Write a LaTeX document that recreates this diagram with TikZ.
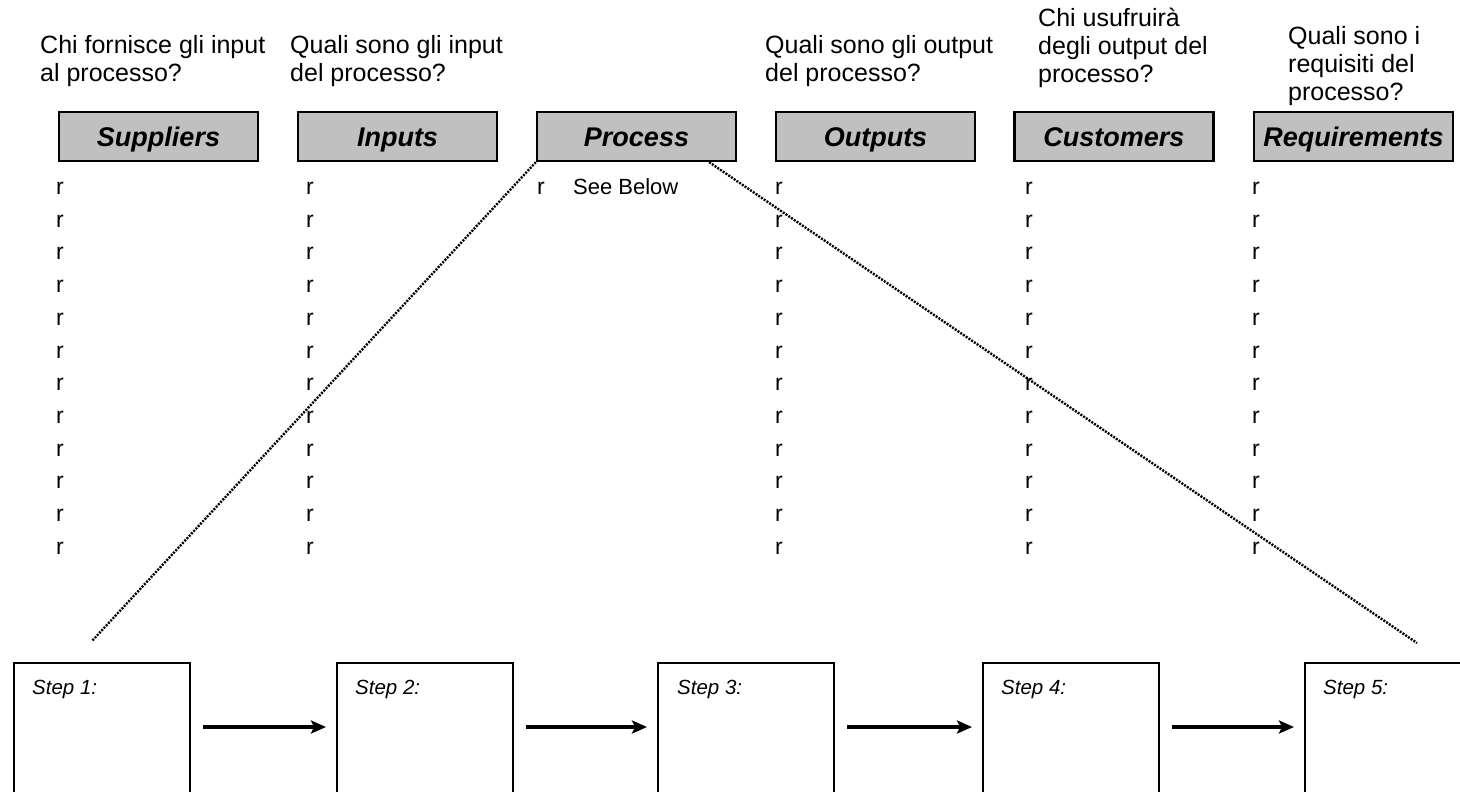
\documentclass[tikz,border=0pt]{standalone}
\usepackage{fontspec}
\setmainfont{Liberation Sans}
\usetikzlibrary{calc,arrows.meta}
\definecolor{hdrgray}{RGB}{192,192,192}
\newcommand{\qstrut}{\rule{0pt}{20pt}}
\tikzset{
  qtext/.style={anchor=north west, inner sep=0pt, align=left, font=\fontsize{25}{28}\selectfont},
  hdr/.style={draw=black, line width=2.4pt, fill=hdrgray, minimum width=199pt, minimum height=49pt, inner sep=0pt, text height=20pt, text depth=0pt, font=\fontsize{27}{30}\selectfont\bfseries\itshape},
  bul/.style={anchor=base, inner sep=0pt, font=\fontsize{23}{26}\selectfont},
  seeb/.style={anchor=base west, inner sep=0pt, font=\fontsize{22}{26}\selectfont},
  stepbox/.style={draw=black, line width=2.8pt, anchor=north west, minimum width=176pt, minimum height=200pt, inner sep=0pt, outer sep=0pt},
  steplbl/.style={anchor=west, inner sep=0pt, font=\fontsize{20.5}{24}\selectfont\itshape},
  arr/.style={line width=3.2pt, -{Stealth[length=15pt,width=13pt,inset=3pt]}},
  dotline/.style={line width=2.4pt, dash pattern=on 2pt off 1.3pt}
}
\begin{document}
\begin{tikzpicture}[x=1pt,y=-1pt]
\useasboundingbox (0,0) rectangle (1460,792);
\fill[white] (0,0) rectangle (1460,792);
\clip (0,0) rectangle (1460,792);

% questions
\node[qtext] (q1) at (40,33) {\qstrut Chi fornisce gli input\\al processo?};
\node[qtext] (q2) at (290,33) {\qstrut Quali sono gli input\\del processo?};
\node[qtext] (q4) at (765,33) {\qstrut Quali sono gli output\\del processo?};
\node[qtext] (q5) at (1038,6) {\qstrut Chi usufruirà\\degli output del\\processo?};
\node[qtext] (q6) at (1288,24) {\qstrut Quali sono i\\requisiti del\\processo?};

% header boxes
\node[hdr] (sup) at (158.5,136.5) {Suppliers};
\node[hdr] (inp) at (397.5,136.5) {Inputs};
\node[hdr] (proc) at (636.5,136.5) {Process};
\node[hdr] (out) at (875.5,136.5) {Outputs};
\node[hdr] (cus) at (1114,136.5) {Customers};
\node[hdr] (req) at (1353.5,136.5) {Requirements};

% bullets
\foreach \c/\x in {a/60, b/310, d/779, e/1029, f/1256} {
  \foreach \i in {0,...,11} {
    \node[bul] (r-\c-\i) at (\x, 194.5+32.7*\i) {r};
  }
}
\node[bul] (r-c-0) at (541,194.5) {r};
\node[seeb] (seebelow) at (573,194.5) {See Below};

% step boxes
\node[stepbox] (s1) at (14,663) {};
\node[stepbox] (s2) at (337,663) {};
\node[stepbox] (s3) at (658,663) {};
\node[stepbox] (s4) at (983,663) {};
\node[stepbox] (s5) at (1305,663) {};
\node[steplbl] (t1) at (32,689) {Step 1:};
\node[steplbl] (t2) at (355,689) {Step 2:};
\node[steplbl] (t3) at (677,689) {Step 3:};
\node[steplbl] (t4) at (1001,689) {Step 4:};
\node[steplbl] (t5) at (1323,689) {Step 5:};

% arrows
\draw[arr] ($(s1.north east)+(13,64)$) -- ($(s2.north west)+(-11,64)$);
\draw[arr] ($(s2.north east)+(13,64)$) -- ($(s3.north west)+(-11,64)$);
\draw[arr] ($(s3.north east)+(13,64)$) -- ($(s4.north west)+(-11,64)$);
\draw[arr] ($(s4.north east)+(13,64)$) -- ($(s5.north west)+(-11,64)$);

% dotted zoom lines
\coordinate (dl) at (92,641);
\coordinate (dr) at (1417,643);
\draw[dotline] (proc.south west) -- (dl);
\draw[dotline] ($(proc.south east)+(-28,0)$) -- (dr);
\end{tikzpicture}
\end{document}
